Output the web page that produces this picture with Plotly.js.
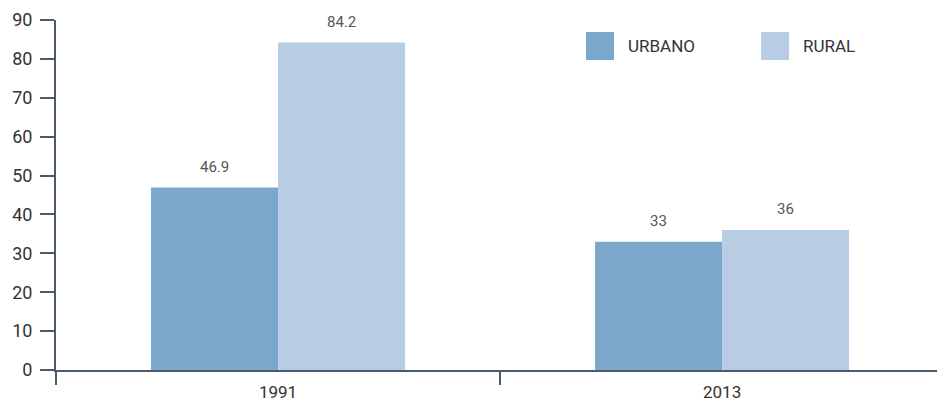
<!DOCTYPE html>
<html>
<head>
<meta charset="utf-8">
<script src="https://cdn.plot.ly/plotly-3.0.1.min.js"></script>
<style>html,body{margin:0;padding:0;background:#fff;}#chart{width:937px;height:402px;}</style>
</head>
<body>
<div id="chart"></div>
<script>
const categories = ['1991', '2013'];
const urbano = [46.9, 33];
const rural = [84.2, 36];
const seriesNames = ['URBANO', 'RURAL'];
const yTicks = [0, 10, 20, 30, 40, 50, 60, 70, 80, 90];

const colors = ['#7ba7cc', '#b8cde3'];
const axisColor = '#4b5b6b';
const textColor = '#333333';
const fontFam = 'Roboto, "DejaVu Sans", sans-serif';
const bargap = 0.428;

const traces = [urbano, rural].map((vals, i) => ({
  type: 'bar',
  name: seriesNames[i],
  x: categories,
  y: vals,
  marker: {color: colors[i]},
  hoverinfo: 'x+y+name',
  showlegend: false
}));

const barW = (1 - bargap) / 2;
const annotations = [];
[urbano, rural].forEach((vals, i) => {
  vals.forEach((v, j) => {
    annotations.push({
      x: j + (i === 0 ? -barW / 2 : barW / 2), y: v, xref: 'x', yref: 'y',
      text: String(v), showarrow: false, yanchor: 'middle', yshift: 21,
      font: {family: fontFam, size: 15, color: '#555555'}
    });
  });
});

// manual legend
const shapes = [];
const legendX = [0.6016, 0.8002];
const textX = [0.6470, 0.8456];
seriesNames.forEach((n, i) => {
  shapes.push({type: 'rect', xref: 'paper', yref: 'paper',
    x0: legendX[i], x1: legendX[i] + 0.0318, y0: 0.8857, y1: 0.9657,
    fillcolor: colors[i], line: {width: 0}});
  annotations.push({xref: 'paper', yref: 'paper', x: textX[i], y: 0.9257,
    xanchor: 'left', yanchor: 'middle', text: n, showarrow: false,
    font: {family: fontFam, size: 17, color: textColor}});
});

const layout = {
  width: 937, height: 402,
  margin: {l: 56, r: 0, t: 20, b: 32},
  paper_bgcolor: '#ffffff', plot_bgcolor: '#ffffff',
  barmode: 'group', bargap: bargap, bargroupgap: 0,
  showlegend: false,
  font: {family: fontFam, color: textColor, size: 17},
  xaxis: {
    type: 'category', range: [-0.5, 1.484],
    showline: true, linecolor: axisColor, linewidth: 2,
    ticks: 'outside', tickson: 'boundaries', ticklen: 13, tickwidth: 2, tickcolor: axisColor,
    ticklabelstandoff: 6,
    showgrid: false, zeroline: false,
    tickfont: {family: fontFam, size: 17, color: textColor}
  },
  yaxis: {
    range: [0, 90], tickvals: yTicks, ticktext: yTicks.map(String),
    showline: true, linecolor: axisColor, linewidth: 2,
    ticks: 'outside', ticklen: 14, tickwidth: 2, tickcolor: axisColor,
    ticklabelstandoff: 4,
    showgrid: false, zeroline: false,
    tickfont: {family: fontFam, size: 18, color: textColor}
  },
  shapes: shapes,
  annotations: annotations
};

Plotly.newPlot('chart', traces, layout, {displayModeBar: false, staticPlot: true});
</script>
</body>
</html>
